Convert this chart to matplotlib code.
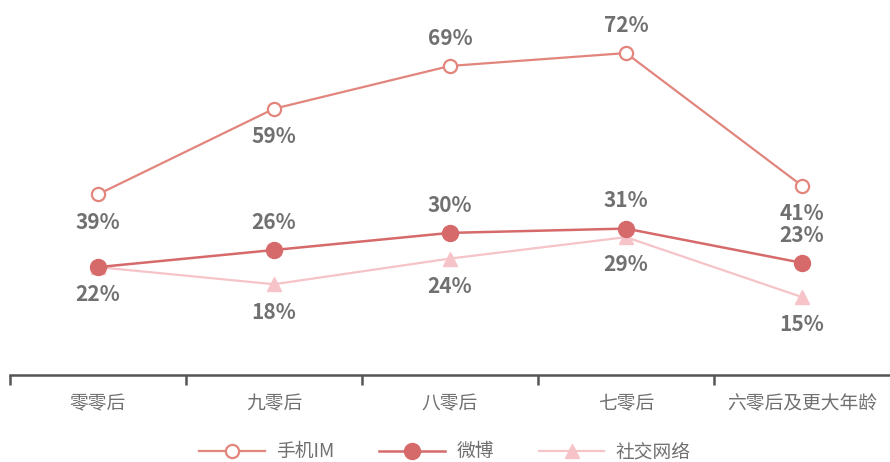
import matplotlib.pyplot as plt
import numpy as np

plt.rcParams['font.family'] = ['Noto Sans CJK SC', 'DejaVu Sans']

categories = ['零零后', '九零后', '八零后', '七零后', '六零后及更大年龄']
im_values = [39, 59, 69, 72, 41]
weibo_values = [22, 26, 30, 31, 23]
social_values = [22, 18, 24, 29, 15]

# label placement: +1 above the point, -1 below, 0 = skip
im_pos = [-1, -1, 1, 1, -1]
weibo_pos = [0, 1, 1, 1, 1]
social_pos = [-1, -1, -1, -1, -1]

c_im = '#e2857d'
c_weibo = '#d66a6b'
c_social = '#f6c3c8'
c_text = '#707070'

fig = plt.figure(figsize=(8.9, 4.62), dpi=100)
ax = fig.add_axes([10 / 890, 87 / 462, 880 / 890, 375 / 462])

x = np.arange(len(categories))
ax.plot(x, social_values, color=c_social, lw=1.6, marker='^', ms=10,
        mfc=c_social, mec=c_social, label='社交网络', zorder=2)
ax.plot(x, weibo_values, color=c_weibo, lw=1.8, marker='o', ms=11.5,
        mfc=c_weibo, mec=c_weibo, label='微博', zorder=3)
ax.plot(x, im_values, color=c_im, lw=1.6, marker='o', ms=9.5,
        mfc='white', mec=c_im, mew=1.6, label='手机IM', zorder=4)

def put_labels(vals, pos):
    for xi, v, p in zip(x, vals, pos):
        if p == 0:
            continue
        ax.annotate(f'{v}%', (xi, v), xytext=(0, 20 * p), textcoords='offset points',
                    ha='center', va='center', fontsize=15, fontweight='bold',
                    color=c_text)

put_labels(im_values, im_pos)
put_labels(weibo_values, weibo_pos)
put_labels(social_values, social_pos)

ax.set_xlim(-0.5, 4.5)
ax.set_ylim(-3.2, 84.4)

for s in ['top', 'right', 'left']:
    ax.spines[s].set_visible(False)
ax.spines['bottom'].set_color('#555555')
ax.spines['bottom'].set_linewidth(1.8)
ax.set_yticks([])

ax.set_xticks(x)
ax.set_xticklabels(categories, fontsize=13.5, color=c_text)
ax.tick_params(axis='x', which='major', length=0, pad=13)
ax.set_xticks(np.arange(-0.5, 4.5, 1), minor=True)
ax.tick_params(axis='x', which='minor', length=7, width=1.8, color='#555555', direction='out')

handles, labels = ax.get_legend_handles_labels()
order = [2, 1, 0]
fig.legend([handles[i] for i in order], [labels[i] for i in order],
           loc='center', bbox_to_anchor=(0.5, 0.022), ncol=3, frameon=False,
           fontsize=13.5, handlelength=3.5, columnspacing=2.4, handletextpad=0.6,
           labelcolor=c_text)

fig.savefig('out.png', dpi=100)
